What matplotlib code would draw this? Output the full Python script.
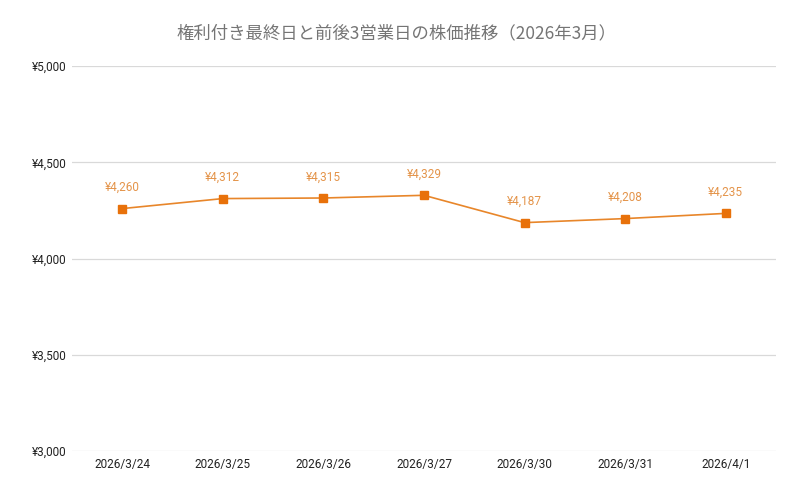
import matplotlib
matplotlib.use("Agg")
import matplotlib.pyplot as plt

plt.rcParams['font.family'] = ['Noto Sans CJK JP', 'DejaVu Sans']

dates = ["2026/3/24", "2026/3/25", "2026/3/26", "2026/3/27", "2026/3/30", "2026/3/31", "2026/4/1"]
prices = [4260, 4312, 4315, 4329, 4187, 4208, 4235]
yticks = [3000, 3500, 4000, 4500, 5000]
title = "権利付き最終日と前後3営業日の株価推移（2026年3月）"

fig = plt.figure(figsize=(8, 4.94), dpi=100)
ax = fig.add_axes([0.09, 0.087, 0.88, 0.779])

line_color = "#E8862A"
marker_color = "#E8710A"
label_color = "#E4944A"
x = list(range(len(dates)))
ax.plot(x, prices, color=line_color, linewidth=1.2, marker="s", markersize=6,
        markerfacecolor=marker_color, markeredgecolor=marker_color, zorder=3)
for xi, p in zip(x, prices):
    ax.annotate(f"¥{p:,}", (xi, p), xytext=(0, 10.5), textcoords="offset points",
                ha="center", va="bottom", color=label_color, fontsize=8.5,
                family=['Roboto', 'DejaVu Sans'])

ax.set_xlim(-0.5, len(dates) - 0.5)
ax.set_ylim(3000, 5000)
ax.set_yticks(yticks)
ax.set_yticklabels([f"¥{v:,}" for v in yticks], family=['Roboto', 'DejaVu Sans'], fontsize=8.5, color="#222222")
ax.set_xticks(x)
ax.set_xticklabels(dates, family=['Roboto', 'DejaVu Sans'], fontsize=8.5, color="#222222")
ax.tick_params(axis="y", length=0, pad=4)
ax.tick_params(axis="x", length=0, pad=5)
ax.grid(axis="y", color="#d9d9d9", linewidth=0.9)
ax.set_axisbelow(True)
for s in ax.spines.values():
    s.set_visible(False)

fig.text(0.495, 0.933, title, ha="center", va="center", fontsize=12.5, color="#757575")

fig.savefig("out.png", dpi=100, facecolor="white")
